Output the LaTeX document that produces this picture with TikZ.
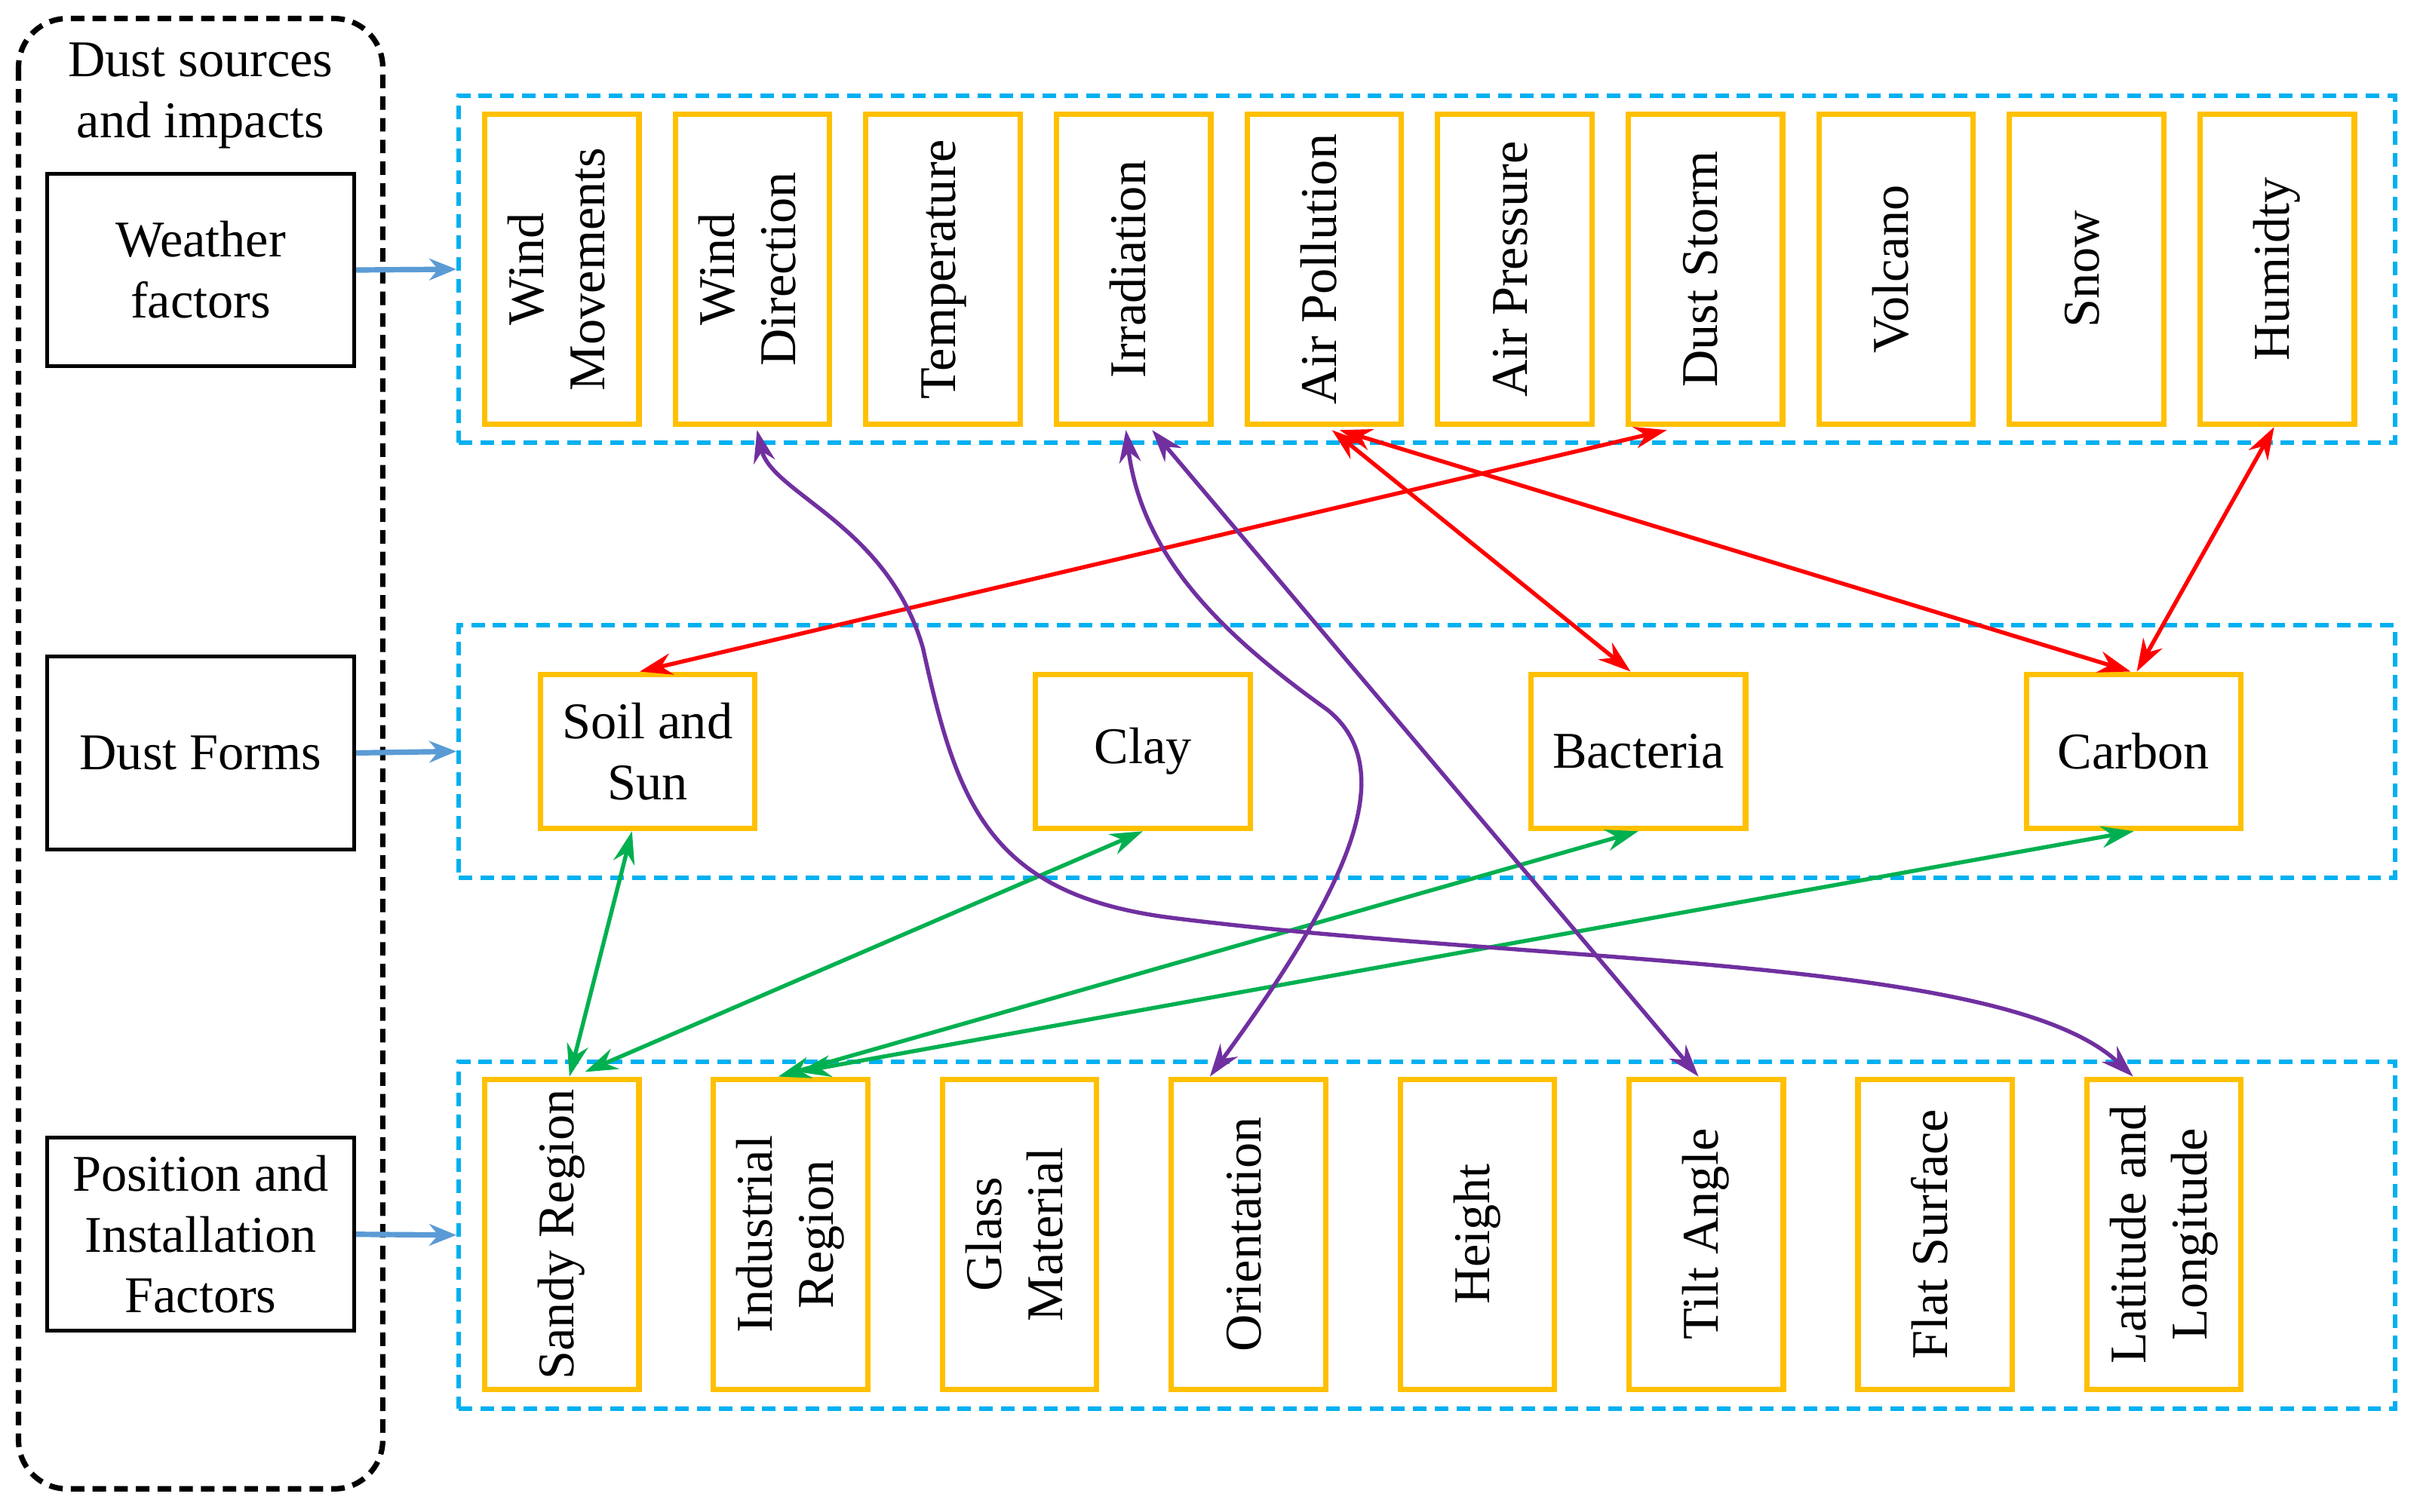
\documentclass[tikz,border=0pt]{standalone}
\usepackage{fontspec}
\setmainfont{Liberation Serif}
\usetikzlibrary{arrows.meta,calc}
\definecolor{ob}{RGB}{255,192,0}
\definecolor{bb}{RGB}{0,176,240}
\definecolor{ab}{RGB}{91,155,213}
\definecolor{gr}{RGB}{0,176,80}
\definecolor{pu}{RGB}{112,48,160}
\begin{document}
\begin{tikzpicture}[x=0.02cm,y=-0.02cm,
  every node/.style={font=\fontsize{19}{22.5}\selectfont},
  lbox/.style={draw=black,line width=1.4pt,minimum width=3.98cm,minimum height=2.5cm,align=center,inner sep=0pt},
  vbox/.style={draw=ob,line width=2pt,minimum width=2cm,minimum height=4.02cm,align=center,inner sep=0pt},
  hbox/.style={draw=ob,line width=2pt,minimum width=2.78cm,minimum height=2cm,align=center,inner sep=0pt},
  grp/.style={draw=bb,line width=1.6pt,dash pattern=on 5pt off 3pt},
  barr/.style={draw=ab,line width=2pt,-{Stealth[length=10pt,width=8pt]}},
  rel/.style={line width=1.5pt,{Stealth[length=12pt,width=8pt]}-{Stealth[length=12pt,width=8pt]}}]
\useasboundingbox (0,0) rectangle (1568,980);
\draw[line width=2pt,dash pattern=on 5pt off 3pt,rounded corners=18pt] (12,12) rectangle (248,965);
\node[align=center] (title) at (130,62) {Dust sources\\and impacts};
\node[lbox] (wf) at (130,175) {Weather\\factors};
\node[lbox] (df) at (130,488) {Dust Forms};
\node[lbox] (pf) at (130,800) {Position and\\Installation\\Factors};
\node[grp,minimum width=25.1cm,minimum height=4.5cm] (g1) at (924.5,174.5) {};
\node[grp,minimum width=25.1cm,minimum height=3.28cm] (g2) at (924.5,487) {};
\node[grp,minimum width=25.1cm,minimum height=4.5cm] (g3) at (924.5,800.5) {};
\draw[barr] (wf.east) -- (g1.west);
\draw[barr] (df.east) -- (g2.west);
\draw[barr] (pf.east) -- (g3.west);
\foreach \t [count=\i from 0] in {Wind\\Movements,Wind\\Direction,Temperature,Irradiation,Air Pollution,Air Pressure,Dust Storm,Volcano,Snow,Humidty}
  \node[vbox] (w\i) at (364+123.5*\i,174.5) {\rotatebox{90}{\begin{tabular}{@{}c@{}}\t\end{tabular}}};
\node[hbox] (soil) at (419.5,487) {Soil and\\Sun};
\node[hbox] (clay) at (740.5,487) {Clay};
\node[hbox] (bact) at (1061.5,487) {Bacteria};
\node[hbox] (carb) at (1382.5,487) {Carbon};
\foreach \t [count=\i from 0] in {Sandy Region,Industrial\\Region,Glass\\Material,Orientation,Height,Tilt Angle,Flat Surface,Latitude and\\Longitude}
  \node[vbox] (p\i) at (364+148.3*\i,800) {\rotatebox{90}{\begin{tabular}{@{}c@{}}\t\end{tabular}}};
% red
\draw[rel,red] ($(w6.south)+(-25,2)$) -- ($(soil.north)+(-5,0)$);
\draw[rel,red] ($(w4.south)+(5,2)$) -- ($(bact.north)+(-5,0)$);
\draw[rel,red] ($(w4.south)+(10,2)$) -- ($(carb.north)+(-2,0)$);
\draw[rel,red] ($(w9.south)+(-2,0)$) -- ($(carb.north)+(2,0)$);
% green
\draw[rel,gr] ($(soil.south)+(-10,0)$) -- ($(p0.north)+(5,0)$);
\draw[rel,gr] (clay.south) -- ($(p0.north)+(15,-3)$);
\draw[rel,gr] (bact.south) -- ($(p1.north)+(-8,0)$);
\draw[rel,gr] (carb.south) -- ($(p1.north)+(5,-3)$);
% purple
\draw[rel,pu] ($(w1.south)+(3,2)$) .. controls (500,320) and (575,340) .. (598,420) .. controls (620,520) and (640,580) .. (760,595) .. controls (1000,625) and (1300,620) .. ($(p7.north)+(-20,0)$);
\draw[rel,pu] ($(w3.south)+(-5,2)$) .. controls (740,360) and (790,410) .. (860,460) .. controls (910,500) and (870,580) .. ($(p3.north)+(-25,0)$);
\draw[rel,pu] ($(w3.south)+(12,2)$) -- ($(p5.north)+(-5,0)$);
\end{tikzpicture}
\end{document}
